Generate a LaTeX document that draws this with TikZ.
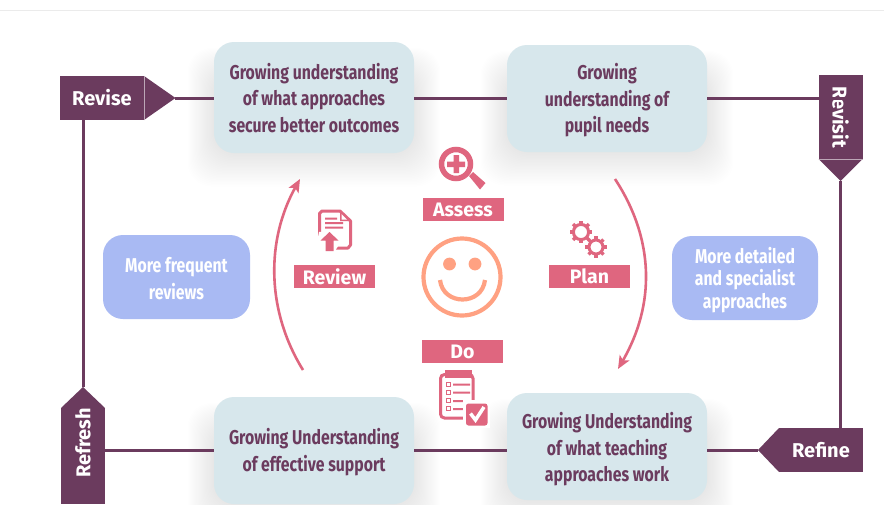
\documentclass[tikz,border=0pt]{standalone}
\usepackage{fontspec}
\setmainfont{Fira Sans}
\newfontfamily\condfont[FakeStretch=0.79]{Fira Sans}
\usetikzlibrary{arrows.meta}
\definecolor{plum}{HTML}{6B3B5E}
\definecolor{rosy}{HTML}{DF667F}
\definecolor{paleblue}{HTML}{D7E7EC}
\definecolor{lilac}{HTML}{A9BAF3}
\definecolor{peach}{HTML}{FFA182}
\newcommand{\softshadow}[4]{%
  \foreach \k in {1,...,24}{
    \fill[black,opacity=0.005,rounded corners=24pt]
      ({#1-\k*1.1},{#2+30-\k}) rectangle ({#3+\k*1.1},{#4+\k*1.4});
  }}
\newcommand{\lowered}[1]{\rule{0pt}{#1pt}}
\tikzset{
  x=1pt,y=-1pt,
  growbox/.style={fill=paleblue,rounded corners=20pt,text=plum,align=center,inner sep=0pt,
    font=\condfont\bfseries\fontsize{20}{26.7}\selectfont},
  extrabox/.style={fill=lilac,rounded corners=20pt,text=white,align=center,inner sep=0pt,
    font=\condfont\bfseries\fontsize{20}{27}\selectfont},
  tagbody/.style={fill=plum,text=white,inner sep=0pt,font=\bfseries\fontsize{20}{22}\selectfont},
  tagtip/.style={fill=plum},
  linkline/.style={draw=plum,line width=3pt},
  cyclearc/.style={draw=rosy,line width=2.6pt},
  cyclelabel/.style={fill=rosy,text=white,inner sep=0pt,minimum width=81pt,minimum height=23pt,
    font=\bfseries\fontsize{19.5}{20}\selectfont},
  iconline/.style={draw=rosy,line width=3pt},
  iconfill/.style={fill=rosy},
}
\begin{document}
\begin{tikzpicture}
\useasboundingbox (0,0) rectangle (884,504);
\fill[white] (0,0) rectangle (884,504);
\draw[black!8,line width=1pt] (0,10) -- (884,10);
\begin{scope}
\clip (0,0) rectangle (884,504);
\softshadow{214}{42}{414}{153}
\softshadow{507}{45}{707}{152}
\softshadow{214}{397}{414}{504}
\softshadow{507}{393}{707}{500}
\end{scope}

% nodes
\node[growbox,minimum width=200pt,minimum height=111pt] (understandA) at (314,97.5)
  {\lowered{17}Growing understanding\\of what approaches\\secure better outcomes};
\node[growbox,minimum width=200pt,minimum height=107pt] (understandB) at (607,98.5)
  {\lowered{20}Growing\\understanding of\\pupil needs};
\node[growbox,minimum width=200pt,minimum height=107pt] (understandC) at (314,450.5)
  {\lowered{20}Growing Understanding\\of effective support};
\node[growbox,minimum width=200pt,minimum height=107pt] (understandD) at (607,446.5)
  {\lowered{22}Growing Understanding\\of what teaching\\approaches work};
\node[extrabox,minimum width=147pt,minimum height=84pt] (frequent) at (176.5,277)
  {\lowered{18}More frequent\\reviews};
\node[extrabox,minimum width=146pt,minimum height=84pt,font=\condfont\bfseries\fontsize{20}{22.6}\selectfont] (detailed) at (745,278)
  {\lowered{20}More detailed\\and specialist\\approaches};

\node[tagbody,minimum width=84pt,minimum height=44pt,text width=84pt,align=center] (revise) at (102,98) {Revise};
\node[tagbody,minimum width=84pt,minimum height=44pt,rotate=-90] (revisit) at (840.5,117) {Revisit};
\node[tagbody,minimum width=84pt,minimum height=44pt] (refine) at (821,450) {Refine};
\node[tagbody,minimum width=96pt,minimum height=44pt,rotate=90] (refresh) at (83,456) {};
\node[fill=none,text=white,inner sep=0pt,rotate=90,font=\bfseries\fontsize{20}{22}\selectfont] (refreshtext) at (83,443) {Refresh};

\fill[tagtip] (144,76) -- (175.5,98) -- (144,120) -- cycle;
\draw[white!55!plum,line width=.6pt] (144,76) -- (144,120);
\coordinate (revisetip) at (175,98);
\fill[tagtip] (818.5,159) -- (840.5,181) -- (862.5,159) -- cycle;
\draw[white!55!plum,line width=.6pt] (818.5,159) -- (862.5,159);
\coordinate (revisittip) at (840.5,181);
\fill[tagtip] (779,428) -- (758,450) -- (779,472) -- cycle;
\coordinate (refinetip) at (758,450);
\fill[tagtip] (61,408) -- (83,387) -- (105,408) -- cycle;
\coordinate (refreshtip) at (83,387);

% connectors
\draw[linkline] (revisetip) -- (understandA.west |- revisetip);
\draw[linkline] (understandA.east |- revisetip) -- (understandB.west |- revisetip);
\draw[linkline] (understandB.east |- revisetip) -- (revisit.north |- revisetip) ;
\draw[linkline] (revisittip) -- (revisittip |- refine.north);
\draw[linkline] (refinetip) -- (understandD.east |- refinetip);
\draw[linkline] (understandD.west |- refinetip) -- (understandC.east |- refinetip);
\draw[linkline] (understandC.west |- refinetip) -- (refresh.south |- refinetip);
\draw[linkline] (refreshtip) -- (refreshtip |- revise.south);

% cycle arcs
\coordinate (arcRa) at (615,179);
\coordinate (arcRb) at (618,369);
\coordinate (arcLa) at (303,370);
\coordinate (arcLb) at (300,179);
\draw[cyclearc,-{Stealth[length=13pt,width=11pt,inset=3pt]}] (arcRa) .. controls (655,240) and (655,305) .. (arcRb);
\draw[cyclearc,-{Stealth[length=13pt,width=11pt,inset=3pt]}] (arcLa) .. controls (266,310) and (266,240) .. (arcLb);

\node[cyclelabel] (assess) at (463,209.5) {Assess};
\node[cyclelabel] (plan) at (589.5,276.5) {Plan};
\node[cyclelabel] (review) at (334.5,276.5) {Review};
\node[cyclelabel] (do) at (462.5,351.5) {Do};

% smiley
\draw[peach,line width=4.2pt] (462,277) circle (38.5);
\fill[peach] (449.5,264) circle (6.4) (475,264) circle (6.4);
\draw[peach,line width=4.2pt] (440,280) .. controls (443,306) and (482,306) .. (485,280);

% magnifier
\draw[iconline,line width=5.5pt] (456,164) circle (14.5);
\fill[iconfill] (453.5,155) rectangle (459,173) (447,161.5) rectangle (465,167);
\fill[iconfill] (469,176) -- (473,172) -- (485.5,183) -- (480,189.5) -- cycle;

% gears
\foreach \cx/\cy/\r in {581/232/7.6,596/247/7}{
  \draw[rosy,line width=3pt] (\cx,\cy) circle (\r);
  \foreach \a in {0,45,...,315}{
    \fill[rosy,rotate around={\a:(\cx,\cy)}] (\cx-1.7,\cy-\r-3.6) rectangle (\cx+1.7,\cy-\r);
  }
}

% review document
\draw[iconline,line join=round] (325,238) -- (321.5,238) -- (319.5,236) -- (319.5,213.5) -- (322,211) -- (340,211) -- (350.5,221) -- (350.5,245) -- (348,248) -- (336,248);
\fill[iconfill] (340,212) -- (340,221) -- (349,221) -- cycle;
\fill[white] (341.5,214) -- (341.5,219.5) -- (347,219.5) -- cycle;
\fill[iconfill] (325,217.5) rectangle (337,219.5) (325,222) rectangle (343,224) (325,226.5) rectangle (343,228.5);
\fill[white] (319,232) -- (329.5,231) -- (340,243) -- (335,251) -- (322,251) -- (317,242) -- cycle;
\fill[iconfill] (320.5,240.5) -- (329.5,232) -- (338.5,240.5) -- (333.5,240.5) -- (333.5,251) -- (325.5,251) -- (325.5,240.5) -- cycle;

% clipboard
\draw[iconline,rounded corners=4pt] (440.5,374.5) rectangle (473,418);
\fill[iconfill] (445,369.5) rectangle (472,377.5);
\foreach \yy in {385,393,401,409}{
  \draw[rosy,line width=1.1pt] (446.5,\yy-2.5) rectangle (450.5,\yy+1.5);
}
\fill[iconfill] (453,383.5) rectangle (470,385.5) (453,391.5) rectangle (470,393.5) (453,400) rectangle (466,402) (453,408) rectangle (463,410);
\fill[white] (463,400) rectangle (490,428);
\fill[rosy,rounded corners=2.5pt] (466,403.5) rectangle (487.5,425.5);
\draw[white,line width=3.5pt] (470.5,413.5) -- (475.5,420) -- (484,407);
\end{tikzpicture}
\end{document}
